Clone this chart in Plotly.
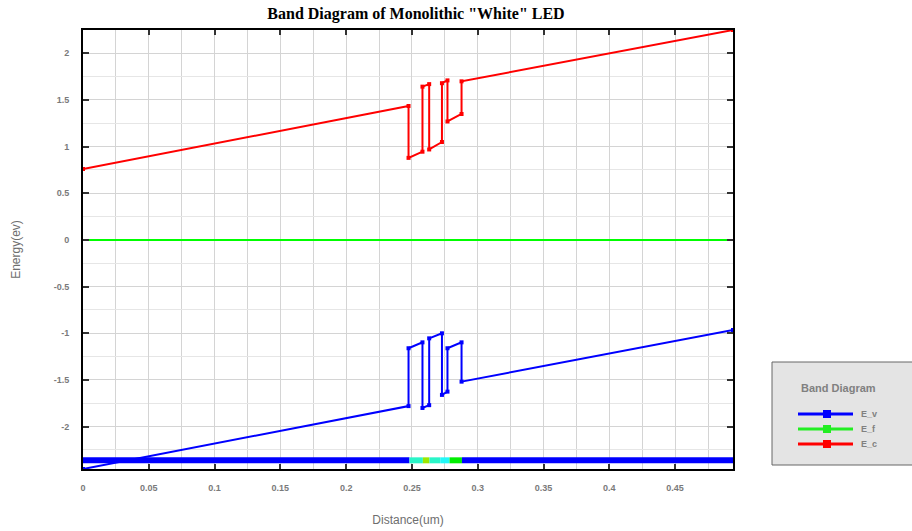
import plotly.graph_objects as go

# ---- data ----
x_band = [0.0, 0.2474, 0.2474, 0.2580, 0.2580, 0.2631, 0.2631, 0.2728, 0.2728, 0.2770, 0.2770, 0.2877, 0.2877, 0.494]
E_c = [0.76, 1.436, 0.88, 0.946, 1.643, 1.67, 0.97, 1.05, 1.68, 1.71, 1.27, 1.35, 1.70, 2.25]
E_v = [-2.454, -1.78, -1.16, -1.097, -1.80, -1.77, -1.054, -1.00, -1.66, -1.625, -1.16, -1.097, -1.518, -0.965]
x_f = [0.0, 0.494]
E_f = [0.0, 0.0]

# material strip (layer start, layer end, colour)
layer_start = [0.0, 0.2481, 0.2583, 0.2633, 0.2715, 0.2786, 0.2880]
layer_end = [0.2481, 0.2583, 0.2633, 0.2715, 0.2786, 0.2880, 0.494]
layer_color = ["#0000ff", "#2af5c8", "#9ee800", "#2af5c8", "#22f8f8", "#00ee00", "#0000ff"]
strip_y = -2.361

xtick_vals = [0, 0.05, 0.1, 0.15, 0.2, 0.25, 0.3, 0.35, 0.4, 0.45]
xtick_text = ["0", "0.05", "0.1", "0.15", "0.2", "0.25", "0.3", "0.35", "0.4", "0.45"]
ytick_vals = [-2, -1.5, -1, -0.5, 0, 0.5, 1, 1.5, 2]
ytick_text = ["-2", "-1.5", "-1", "-0.5", "0", "0.5", "1", "1.5", "2"]

x_range = [0, 0.494]
y_range = [-2.454, 2.25]

legend_title = "Band Diagram"
legend_names = ["E_v", "E_f", "E_c"]
legend_colors = ["#0000ff", "#22ee22", "#ff0000"]

# ---- layout geometry (pixels) ----
W, H = 912, 531
ML, MR, MT, MB = 83, 179, 30, 62
PW, PH = W - ML - MR, H - MT - MB


def px(xp):
    return (xp - ML) / PW


def py(yp):
    return (H - MB - yp) / PH


tick_font = dict(family="Liberation Sans, Arial", size=9, color="#7a7a7a", weight="bold")
axis_title_font = dict(family="Liberation Sans, Arial", size=12, color="#6e6e6e")

fig = go.Figure()

fig.add_trace(go.Bar(
    orientation="h",
    y=[strip_y] * len(layer_start),
    x=[e - s for s, e in zip(layer_start, layer_end)],
    base=layer_start,
    width=0.064,
    marker=dict(color=layer_color, line=dict(width=0)),
    showlegend=False,
    hoverinfo="skip",
))

fig.add_trace(go.Scatter(x=x_band, y=E_v, name="E_v", mode="lines+markers",
                         line=dict(color="#0000ff", width=2),
                         marker=dict(symbol="square", size=4, color="#0000ff"), showlegend=False))
fig.add_trace(go.Scatter(x=x_f, y=E_f, name="E_f", mode="lines",
                         line=dict(color="#00ff00", width=2), showlegend=False))
fig.add_trace(go.Scatter(x=x_band, y=E_c, name="E_c", mode="lines+markers",
                         line=dict(color="#ff0000", width=2),
                         marker=dict(symbol="square", size=4, color="#ff0000"), showlegend=False))

# ---- legend panel ----
fig.add_shape(type="rect", xref="paper", yref="paper",
              x0=px(772), x1=px(915), y0=py(465), y1=py(362),
              fillcolor="#e4e4e4", line=dict(color="#666666", width=1), layer="below")
fig.add_annotation(xref="paper", yref="paper", x=px(799), y=py(388), xanchor="left", yanchor="middle",
                   text=legend_title, showarrow=False,
                   font=dict(family="Liberation Sans, Arial", size=11, color="#808080", weight="bold"))
item_y = [414, 429, 444]
for name, col, yy in zip(legend_names, legend_colors, item_y):
    fig.add_shape(type="line", xref="paper", yref="paper",
                  x0=px(798), x1=px(853), y0=py(yy), y1=py(yy),
                  line=dict(color=col, width=3))
    fig.add_shape(type="rect", xref="paper", yref="paper",
                  x0=px(823), x1=px(831), y0=py(yy + 4), y1=py(yy - 4),
                  fillcolor=col, line=dict(width=0))
    fig.add_annotation(xref="paper", yref="paper", x=px(859), y=py(yy), xanchor="left", yanchor="middle",
                       text=name, showarrow=False,
                       font=dict(family="Liberation Sans, Arial", size=9, color="#808080", weight="bold"))

fig.update_layout(
    width=W, height=H,
    margin=dict(l=ML, r=MR, t=MT, b=MB, autoexpand=False),
    paper_bgcolor="white", plot_bgcolor="white",
    barmode="overlay",
    showlegend=False,
    title=dict(text='Band Diagram of Monolithic "White" LED',
               x=416 / W, xref="container", xanchor="center",
               y=1 - 13 / H, yref="container", yanchor="middle",
               font=dict(family="Liberation Serif, Times New Roman", size=16, color="black", weight="bold")),
    xaxis=dict(range=x_range, tickmode="array", tickvals=xtick_vals, ticktext=xtick_text,
               automargin=False,
               showline=True, linecolor="black", linewidth=2, mirror="ticks",
               ticks="inside", ticklen=5, tickwidth=2, tickcolor="#333333",
               showgrid=True, gridcolor="#d4d4d4", gridwidth=1,
               minor=dict(dtick=0.025, tick0=0, showgrid=True, gridcolor="#d4d4d4", ticks=""),
               zeroline=False, tickfont=tick_font, ticklabelstandoff=9,
               title=dict(text="Distance(um)", standoff=24, font=axis_title_font)),
    yaxis=dict(range=y_range, tickmode="array", tickvals=ytick_vals, ticktext=ytick_text,
               automargin=False,
               showline=True, linecolor="black", linewidth=2, mirror="ticks",
               ticks="inside", ticklen=6, tickwidth=2, tickcolor="#333333",
               showgrid=True, gridcolor="#d4d4d4", gridwidth=1,
               minor=dict(dtick=0.25, tick0=0, showgrid=True, gridcolor="#e6e6e6", ticks=""),
               zeroline=False, tickfont=tick_font, ticklabelstandoff=10,
               title=dict(text="Energy(ev)", standoff=30, font=axis_title_font)),
)

fig.write_html("out.html")
